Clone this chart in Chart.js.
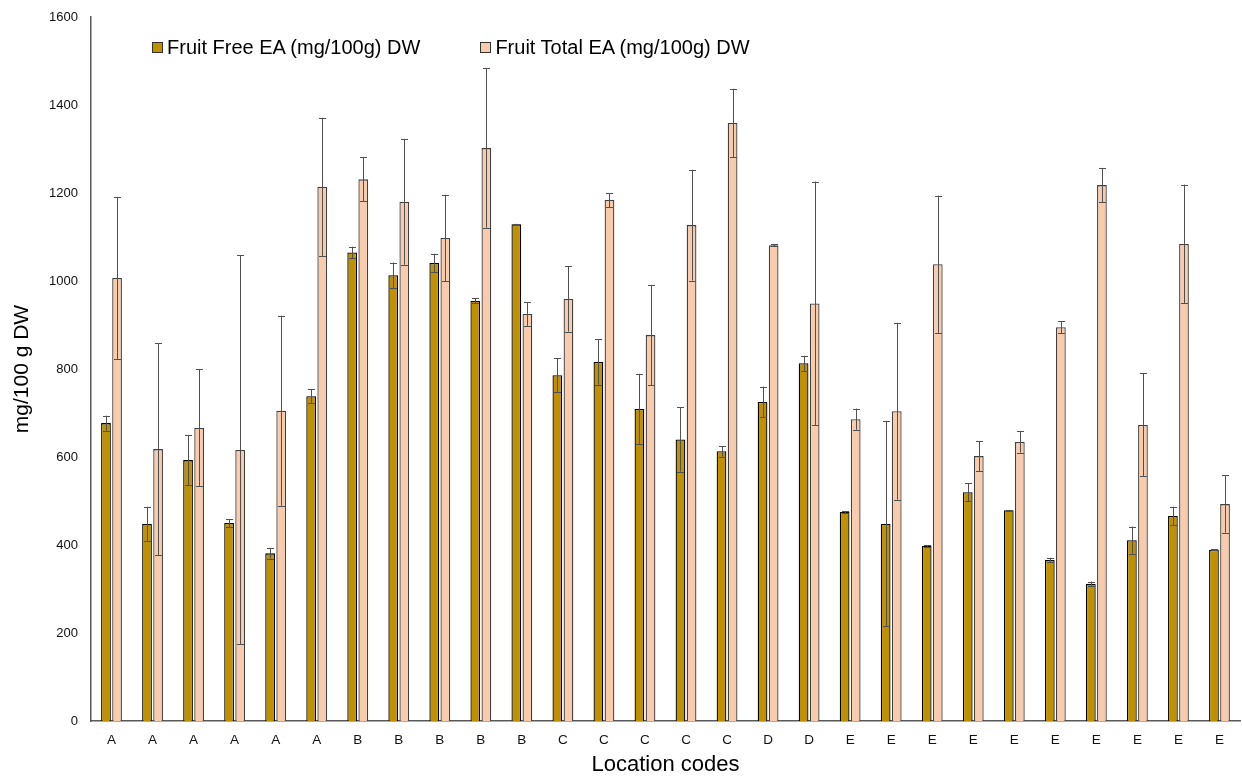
<!DOCTYPE html>
<html>
<head>
<meta charset="utf-8">
<title>Fruit EA by location</title>
<script src="https://cdn.jsdelivr.net/npm/chart.js@4"></script>
<style>
  body { margin: 0; background: #fff; }
  #wrap { position: relative; width: 1242px; height: 778px; }
  #legend { position: absolute; top: 35px; left: 152px; font-family: "Liberation Sans", Arial, sans-serif; font-size: 20px; color: #000; white-space: nowrap; }
  .item { display: inline-flex; align-items: center; margin-right: 60px; }
  .box { width: 9px; height: 9px; border: 1px solid #333; margin-right: 4px; }
</style>
</head>
<body>
<div id="wrap">
  <canvas id="chart" width="1242" height="778"></canvas>
  <div id="legend"></div>
</div>
<script>
// Data
const locationCodes = ['A', 'A', 'A', 'A', 'A', 'A', 'B', 'B', 'B', 'B', 'B', 'C', 'C', 'C', 'C', 'C', 'D', 'D',
  'E', 'E', 'E', 'E', 'E', 'E', 'E', 'E', 'E', 'E'];
const freeEA = [677, 448, 593, 450, 381, 738, 1065, 1013, 1041, 955, 1129, 786, 816, 709, 640, 613, 725, 813,
  475, 448, 398, 520, 479, 366, 312, 411, 466, 389];
const freeErr = [17, 39, 57, 9, 12, 16, 13, 29, 21, 6, 1, 38, 52, 80, 73, 12, 35, 17,
  2, 233, 2, 20, 1, 5, 5, 31, 21, 1];
const totalEA = [1007, 618, 666, 616, 705, 1214, 1231, 1180, 1098, 1302, 925, 959, 1184, 877, 1127, 1359, 1081, 949,
  686, 704, 1038, 602, 634, 895, 1218, 673, 1084, 493];
const totalErr = [184, 241, 133, 442, 216, 157, 50, 143, 98, 181, 27, 74, 16, 114, 126, 78, 2, 277,
  24, 201, 156, 34, 24, 14, 39, 117, 135, 65];

const seriesNames = ['Fruit Free EA (mg/100g) DW', 'Fruit Total EA (mg/100g) DW'];
const seriesColors = ['#BF9000', '#F8CBAD'];
const seriesBorders = ['#000000', '#404040'];

const fontFamily = '"Liberation Sans", Arial, sans-serif';

// Error bars drawn through the y scale
const errorBarPlugin = {
  id: 'errorBars',
  afterDatasetsDraw(chart) {
    const ctx = chart.ctx;
    const yScale = chart.scales.y;
    ctx.save();
    ctx.strokeStyle = '#505050';
    ctx.lineWidth = 1;
    chart.data.datasets.forEach((dataset, di) => {
      const meta = chart.getDatasetMeta(di);
      meta.data.forEach((bar, i) => {
        const value = dataset.data[i];
        const err = dataset.errors[i];
        const yTop = yScale.getPixelForValue(value + err);
        const yBottom = yScale.getPixelForValue(value - err);
        const x = Math.round(bar.x) + 0.5;
        ctx.beginPath();
        ctx.moveTo(x, yTop);
        ctx.lineTo(x, yBottom);
        ctx.moveTo(x - 3.5, Math.round(yTop) + 0.5);
        ctx.lineTo(x + 3.5, Math.round(yTop) + 0.5);
        ctx.moveTo(x - 3.5, Math.round(yBottom) + 0.5);
        ctx.lineTo(x + 3.5, Math.round(yBottom) + 0.5);
        ctx.stroke();
      });
    });
    ctx.restore();
  }
};

// Legend as html
function buildLegend() {
  const legend = document.getElementById('legend');
  seriesNames.forEach((name, i) => {
    const item = document.createElement('span');
    item.className = 'item';
    const box = document.createElement('span');
    box.className = 'box';
    box.style.background = seriesColors[i];
    item.appendChild(box);
    item.appendChild(document.createTextNode(name));
    legend.appendChild(item);
  });
}

function createChart() {
  const ctx = document.getElementById('chart').getContext('2d');
  new Chart(ctx, {
    type: 'bar',
    data: {
      labels: locationCodes,
      datasets: [
        {
          label: seriesNames[0],
          data: freeEA,
          errors: freeErr,
          backgroundColor: seriesColors[0],
          borderColor: seriesBorders[0],
          borderWidth: 1.3,
        },
        {
          label: seriesNames[1],
          data: totalEA,
          errors: totalErr,
          backgroundColor: seriesColors[1],
          borderColor: seriesBorders[1],
          borderWidth: 1.3,
        },
      ],
    },
    options: {
      responsive: false,
      animation: false,
      devicePixelRatio: 1,
      categoryPercentage: 0.54,
      barPercentage: 0.88,
      layout: { padding: { top: 17, right: 2, left: 0, bottom: 0 } },
      plugins: {
        legend: { display: false },
        tooltip: { enabled: false },
      },
      scales: {
        x: {
          grid: { display: false, drawTicks: false },
          border: { display: true, color: '#595959', width: 1.5 },
          ticks: { color: '#111', font: { family: fontFamily, size: 13.5 }, padding: 11, maxRotation: 0, autoSkip: false },
          title: { display: true, text: 'Location codes', color: '#000', font: { family: fontFamily, size: 22 }, padding: { top: 0, bottom: 0 } },
          afterFit(scale) { scale.height = 57; },
        },
        y: {
          min: 0,
          max: 1600,
          grid: { display: false, drawTicks: false },
          border: { display: true, color: '#595959', width: 1.5 },
          ticks: { stepSize: 200, color: '#111', font: { family: fontFamily, size: 13 }, padding: 13, callback: (v) => String(v) },
          title: { display: true, text: 'mg/100 g DW', color: '#000', font: { family: fontFamily, size: 21 }, padding: { top: 10, bottom: 0 } },
          afterFit(scale) {
            scale.width = 91;
            scale.paddingTop = 0;
            scale.paddingBottom = 0;
          },
        },
      },
    },
    plugins: [errorBarPlugin],
  });
}

buildLegend();
createChart();
</script>
</body>
</html>
